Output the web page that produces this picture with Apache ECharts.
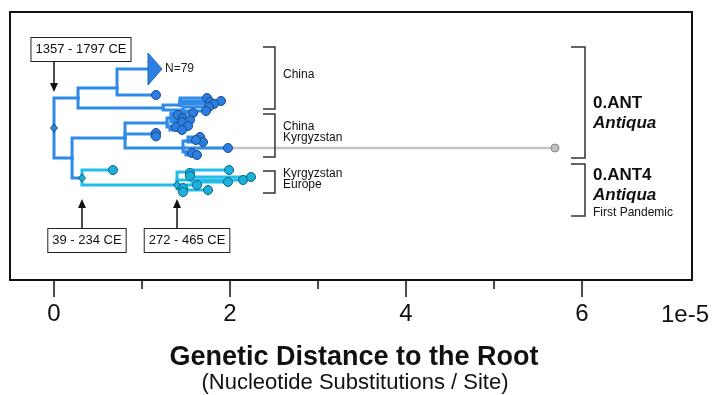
<!DOCTYPE html>
<html>
<head>
<meta charset="utf-8">
<script src="https://cdn.jsdelivr.net/npm/echarts@6/dist/echarts.min.js"></script>
<style>
  html, body { margin: 0; padding: 0; background: #fff; }
  #chart { width: 712px; height: 395px; }
</style>
</head>
<body>
<div id="chart"></div>
<script>
// Rooted phylogeny of the 0.ANT lineage.
// Each node: id, parent id, distance to root (x 1e-5 substitutions/site), layout row, lineage.
const tree = [
  ['root', null,   0.000, 29.00, 'ant'],
  ['a',    'root', 0.273, 21.50, 'ant'],
  ['a1',   'a',    0.716, 19.00, 'ant'],
  ['n79',  'a1',   1.068, 14.25, 'ant'],
  ['t01',  'a1',   1.159, 20.75, 'ant'],
  ['a2',   'a',    1.239, 24.00, 'ant'],
  ['a2a',  'a2',   1.432, 23.25, 'ant'],
  ['t02',  'a2a',  1.739, 21.50, 'ant'],
  ['t03',  'a2a',  1.898, 22.25, 'ant'],
  ['t04',  'a2a',  1.773, 22.50, 'ant'],
  ['t05',  'a2a',  1.818, 23.00, 'ant'],
  ['a2b',  'a2',   1.466, 24.50, 'ant'],
  ['t06',  'a2b',  1.761, 23.75, 'ant'],
  ['t07',  'a2b',  1.727, 24.75, 'ant'],
  ['b',    'root', 0.205, 36.50, 'ant'],
  ['b1',   'b',    0.807, 31.50, 'ant'],
  ['b1a',  'b1',   1.284, 27.75, 'ant'],
  ['b1a1', 'b1a',  1.330, 26.50, 'ant'],
  ['t08',  'b1a1', 1.409, 25.75, 'ant'],
  ['t09',  'b1a1', 1.580, 25.25, 'ant'],
  ['t10',  'b1a1', 1.466, 26.50, 'ant'],
  ['t11',  'b1a1', 1.545, 27.00, 'ant'],
  ['t12',  'b1a1', 1.455, 27.50, 'ant'],
  ['b1a2', 'b1a',  1.318, 28.75, 'ant'],
  ['t13',  'b1a2', 1.386, 28.75, 'ant'],
  ['t14',  'b1a2', 1.523, 28.50, 'ant'],
  ['t15',  'b1a2', 1.455, 29.50, 'ant'],
  ['b1b',  'b1',   1.114, 30.50, 'ant'],
  ['t16',  'b1b',  1.159, 30.25, 'ant'],
  ['t17',  'b1b',  1.159, 31.10, 'ant'],
  ['b1c',  'b1',   1.466, 34.00, 'ant'],
  ['b1c1', 'b1c',  1.523, 32.25, 'ant'],
  ['t18',  'b1c1', 1.659, 31.25, 'ant'],
  ['t19',  'b1c1', 1.693, 32.50, 'ant'],
  ['t20',  'b1c1', 1.614, 32.00, 'ant'],
  ['t21',  'b1c',  1.977, 34.00, 'ant'],
  ['t22',  'b1c',  5.693, 34.00, 'out'],
  ['b1c2', 'b1c',  1.500, 35.00, 'ant'],
  ['t23',  'b1c2', 1.568, 35.25, 'ant'],
  ['t24',  'b1c2', 1.625, 35.75, 'ant'],
  ['c',    'b',    0.318, 41.50, 'ant'],
  ['t25',  'c',    0.670, 39.50, 'ant4'],
  ['d',    'c',    1.398, 43.25, 'ant4'],
  ['d1',   'd',    1.523, 40.00, 'ant4'],
  ['t26',  'd1',   1.989, 39.50, 'ant4'],
  ['t27',  'd1',   1.545, 40.25, 'ant4'],
  ['t28',  'd1',   1.545, 41.00, 'ant4'],
  ['d2',   'd',    1.568, 42.00, 'ant4'],
  ['t29',  'd2',   2.148, 42.00, 'ant4'],
  ['t30',  'd2',   2.239, 41.25, 'ant4'],
  ['t31',  'd2',   1.977, 42.50, 'ant4'],
  ['t32',  'd',    1.625, 43.25, 'ant4'],
  ['d3',   'd',    1.432, 44.25, 'ant4'],
  ['t33',  'd3',   1.466, 44.00, 'ant4'],
  ['t34',  'd3',   1.466, 45.00, 'ant4'],
  ['t35',  'd3',   1.750, 44.50, 'ant4']
];

// Collapsed clade (drawn as a wedge)
const collapsedId = 'n79';
const collapsedCount = 79;
const collapsedLength = 0.159;
const collapsedHalfRows = 4;

// Dated internal nodes
const datedNodes = ['root', 'c', 'd'];
const dateLabels = ['1357 - 1797 CE', '39 - 234 CE', '272 - 465 CE'];

// Sampling-region brackets (rows)
const regionText = ['China', 'China\nKyrgyzstan', 'Kyrgyzstan\nEurope'];
const regionTop = [8.75, 25.5, 39.75];
const regionBottom = [24.25, 36.25, 45.25];

// Lineage brackets (rows)
const lineageName = ['0.ANT', '0.ANT4'];
const lineageNote = ['', 'First Pandemic'];
const lineageTop = [8.75, 38.0];
const lineageBottom = [36.5, 51.0];
const lineageLabelRow = [20.25, 38.25];

// Axis ticks
const majorTicks = [0, 2, 4, 6];
const minorTicks = [1, 3, 5];
const axisExponent = '1e-5';

// ---- styles ----
const FONT = '"Liberation Sans", Arial, sans-serif';
const COLORS = {
  ant:  { line: '#2f8ae8', fill: '#2c7fe0', stroke: '#1a4a8c' },
  ant4: { line: '#22bde8', fill: '#1bb1db', stroke: '#0d6683' },
  out:  { line: '#c4c4c4', fill: '#c0c0c0', stroke: '#8a8a8a' }
};
const LAYOUT = {
  regionX: 2.511, regionTick: 12,
  lineageX: 6.034, lineageTick: 14,
  dateBox: [
    { dx: 27, boxTop: 38, tipY: 92, dir: 'down' },
    { dx: 5, boxTop: 229, tipY: 199, dir: 'up' },
    { dx: 10, boxTop: 229, tipY: 199, dir: 'up' }
  ]
};

// ---- derived structures ----
const byId = {};
tree.forEach(r => { byId[r[0]] = { id: r[0], parent: r[1], x: r[2], y: r[3], clade: r[4], kids: [] }; });
tree.forEach(r => { if (r[1]) byId[r[1]].kids.push(r[0]); });

const edges = { ant: [], ant4: [], out: [] };
tree.forEach(r => {
  if (!r[1]) return;
  const p = byId[r[1]];
  edges[r[4]].push([p.x, p.y, r[2], r[3]]);
});

const tips = { ant: [], ant4: [], out: [] };
tree.forEach(r => {
  const n = byId[r[0]];
  if (n.kids.length === 0 && n.id !== collapsedId) tips[n.clade].push([n.x, n.y]);
});

const diamonds = datedNodes.map(id => {
  const n = byId[id];
  const childClade = byId[n.kids[n.kids.length - 1]].clade;
  return { value: [n.x, n.y], clade: childClade === 'out' ? 'ant' : childClade };
});

function edgeSeries(clade, width) {
  return {
    type: 'custom',
    coordinateSystem: 'cartesian2d',
    encode: { x: [0, 2], y: [1, 3] },
    data: edges[clade],
    silent: true,
    renderItem: (params, api) => {
      const p = api.coord([api.value(0), api.value(1)]);
      const c = api.coord([api.value(2), api.value(3)]);
      return {
        type: 'polyline',
        shape: { points: [p, [p[0], c[1]], c] },
        style: { stroke: COLORS[clade].line, lineWidth: width, fill: null, lineJoin: 'miter', lineCap: 'square' }
      };
    }
  };
}

function tipSeries(clade, size) {
  return {
    type: 'scatter',
    data: tips[clade],
    symbol: 'circle',
    symbolSize: size,
    silent: true,
    itemStyle: { color: COLORS[clade].fill, borderColor: COLORS[clade].stroke, borderWidth: 1, opacity: 1 }
  };
}

const wedge = byId[collapsedId];

const chart = echarts.init(document.getElementById('chart'));
chart.setOption({
  animation: false,
  backgroundColor: '#fff',
  grid: { left: 10, right: 20, top: 12, bottom: 115, show: true, borderColor: '#111', borderWidth: 2, backgroundColor: 'transparent' },
  xAxis: [
    {
      type: 'value', min: -0.5, max: 7.25, position: 'bottom',
      axisLine: { show: false, onZero: false },
      splitLine: { show: false },
      axisTick: { show: true, customValues: majorTicks, length: 17, lineStyle: { color: '#111', width: 1.5 } },
      axisLabel: { show: true, customValues: majorTicks, margin: 22, fontSize: 24, color: '#111', fontFamily: FONT }
    },
    {
      type: 'value', min: -0.5, max: 7.25, position: 'bottom', offset: 0,
      axisLine: { show: false, onZero: false },
      splitLine: { show: false },
      axisTick: { show: true, customValues: minorTicks, length: 9, lineStyle: { color: '#111', width: 1.5 } },
      axisLabel: { show: false }
    }
  ],
  yAxis: { type: 'value', min: 0, max: 67, inverse: true, show: false },
  graphic: [
    { type: 'text', x: 661, y: 315, style: { text: axisExponent, fontSize: 24, fontFamily: FONT, fill: '#111', align: 'left', verticalAlign: 'middle' } },
    { type: 'text', x: 354, y: 358, style: { text: 'Genetic Distance to the Root', fontSize: 27, fontWeight: 'bold', fontFamily: FONT, fill: '#111', align: 'center', verticalAlign: 'middle' } },
    { type: 'text', x: 355, y: 383, style: { text: '(Nucleotide Substitutions / Site)', fontSize: 22, fontFamily: FONT, fill: '#111', align: 'center', verticalAlign: 'middle' } }
  ],
  series: [
    edgeSeries('out', 2.5),
    edgeSeries('ant', 3),
    edgeSeries('ant4', 3),
    // collapsed clade wedge and its size label
    {
      type: 'custom',
      coordinateSystem: 'cartesian2d',
      data: [[wedge.x, wedge.y, collapsedCount]],
      silent: true,
      renderItem: (params, api) => {
        const x0 = api.value(0), y0 = api.value(1);
        const a = api.coord([x0, y0 - collapsedHalfRows]);
        const b = api.coord([x0, y0 + collapsedHalfRows]);
        const t = api.coord([x0 + collapsedLength, y0]);
        return {
          type: 'group',
          children: [
            { type: 'polygon', shape: { points: [a, b, t] }, style: { fill: COLORS.ant.fill, stroke: '#2168c0', lineWidth: 1 } },
            { type: 'text', x: t[0] + 3, y: t[1], style: { text: 'N=' + api.value(2), fontSize: 12, fontFamily: FONT, fill: '#222', align: 'left', verticalAlign: 'middle' } }
          ]
        };
      }
    },
    tipSeries('out', 8),
    tipSeries('ant', 9),
    tipSeries('ant4', 9),
    // dated node markers
    {
      type: 'scatter',
      symbol: 'diamond',
      symbolSize: [7, 8],
      silent: true,
      data: diamonds.map(d => ({ value: d.value, itemStyle: { color: COLORS[d.clade].fill, borderColor: COLORS[d.clade].stroke, borderWidth: 1 } }))
    },
    // date annotations: boxed label with arrow to the node
    {
      type: 'custom',
      coordinateSystem: 'cartesian2d',
      data: datedNodes.map((id, i) => [byId[id].x, byId[id].y, i]),
      silent: true,
      renderItem: (params, api) => {
        const i = api.value(2);
        const cfg = LAYOUT.dateBox[i];
        const ax = api.coord([api.value(0), api.value(1)])[0];
        const boxH = 23;
        const lineStart = cfg.dir === 'down' ? cfg.boxTop + boxH : cfg.boxTop;
        const head = cfg.dir === 'down'
          ? [[ax - 4, cfg.tipY - 9], [ax + 4, cfg.tipY - 9], [ax, cfg.tipY]]
          : [[ax - 4, cfg.tipY + 9], [ax + 4, cfg.tipY + 9], [ax, cfg.tipY]];
        const lineEnd = cfg.dir === 'down' ? cfg.tipY - 8 : cfg.tipY + 8;
        return {
          type: 'group',
          children: [
            { type: 'line', shape: { x1: ax, y1: lineStart, x2: ax, y2: lineEnd }, style: { stroke: '#111', lineWidth: 1.5 } },
            { type: 'polygon', shape: { points: head }, style: { fill: '#111' } },
            {
              type: 'text', x: ax + cfg.dx, y: cfg.boxTop,
              style: {
                text: dateLabels[i], fontSize: 13, fontFamily: FONT, fill: '#111',
                align: 'center', verticalAlign: 'top', lineHeight: 15,
                backgroundColor: '#fff', borderColor: '#222', borderWidth: 1, padding: [4, 4, 4, 4]
              }
            }
          ]
        };
      }
    },
    // region brackets
    {
      type: 'custom',
      coordinateSystem: 'cartesian2d',
      data: regionText.map((t, i) => [LAYOUT.regionX, regionTop[i], regionBottom[i], i]),
      silent: true,
      renderItem: (params, api) => {
        const i = api.value(3);
        const top = api.coord([api.value(0), api.value(1)]);
        const bot = api.coord([api.value(0), api.value(2)]);
        const L = LAYOUT.regionTick;
        return {
          type: 'group',
          children: [
            { type: 'polyline', shape: { points: [[top[0] - L, top[1]], top, bot, [bot[0] - L, bot[1]]] }, style: { stroke: '#333', lineWidth: 1.5, fill: null } },
            { type: 'text', x: top[0] + 8, y: (top[1] + bot[1]) / 2 - 3, style: { text: regionText[i], fontSize: 12, lineHeight: 11, fontFamily: FONT, fill: '#111', align: 'left', verticalAlign: 'middle' } }
          ]
        };
      }
    },
    // lineage brackets
    {
      type: 'custom',
      coordinateSystem: 'cartesian2d',
      data: lineageName.map((t, i) => [LAYOUT.lineageX, lineageTop[i], lineageBottom[i], lineageLabelRow[i], i]),
      silent: true,
      renderItem: (params, api) => {
        const i = api.value(4);
        const top = api.coord([api.value(0), api.value(1)]);
        const bot = api.coord([api.value(0), api.value(2)]);
        const lab = api.coord([api.value(0), api.value(3)]);
        const L = LAYOUT.lineageTick;
        let txt = '{b|' + lineageName[i] + '}\n{i|Antiqua}';
        if (lineageNote[i]) txt += '\n{s|' + lineageNote[i] + '}';
        return {
          type: 'group',
          children: [
            { type: 'polyline', shape: { points: [[top[0] - L, top[1]], top, bot, [bot[0] - L, bot[1]]] }, style: { stroke: '#333', lineWidth: 1.5, fill: null } },
            {
              type: 'text', x: top[0] + 8, y: lab[1],
              style: {
                text: txt, align: 'left', verticalAlign: 'top', fill: '#111', fontFamily: FONT,
                rich: {
                  b: { fontSize: 17, fontWeight: 'bold', lineHeight: 20, fontFamily: FONT, fill: '#111' },
                  i: { fontSize: 17, fontWeight: 'bold', fontStyle: 'italic', lineHeight: 20, fontFamily: FONT, fill: '#111' },
                  s: { fontSize: 12, lineHeight: 16, fontFamily: FONT, fill: '#111' }
                }
              }
            }
          ]
        };
      }
    }
  ]
});
</script>
</body>
</html>
